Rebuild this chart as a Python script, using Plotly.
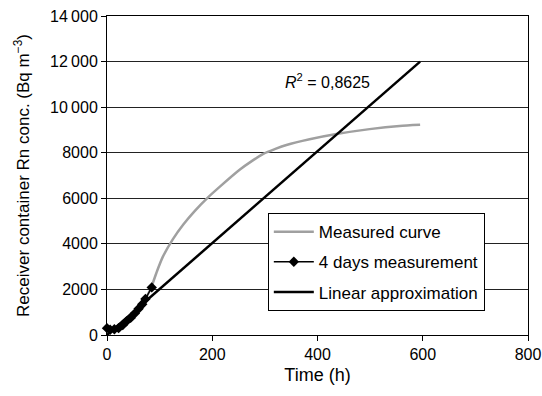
import plotly.graph_objects as go

# ---- data ----
measured_t = [0, 6, 14, 22, 30, 37, 45, 53, 60, 67, 73, 84, 95, 106, 125, 145, 167, 192, 214, 252, 275, 297, 320, 341, 385, 436, 499, 556, 595]
measured_y = [300, 230, 250, 300, 440, 600, 750, 950, 1150, 1350, 1580, 2090, 2800, 3430, 4200, 4850, 5450, 6040, 6500, 7250, 7630, 7950, 8170, 8340, 8590, 8820, 9035, 9175, 9225]

four_days_t = [0, 6, 14, 22, 30, 37, 45, 53, 60, 67, 73, 85]
four_days_y = [300, 230, 250, 300, 440, 600, 750, 950, 1150, 1350, 1580, 2090]

linear_t = [0, 595]
linear_y = [0, 12000]

y_ticks = [0, 2000, 4000, 6000, 8000, 10000, 12000, 14000]
y_tick_text = ["0", "2000", "4000", "6000", "8000", "10\u2009000", "12\u2009000", "14\u2009000"]
x_ticks = [0, 200, 400, 600, 800]

FONT = "Arial, Liberation Sans, sans-serif"

fig = go.Figure()
fig.add_trace(go.Scatter(
    x=measured_t, y=measured_y, name="Measured curve", mode="lines",
    line=dict(color="#a0a0a0", width=2.5, shape="spline", smoothing=0.6),
    legendgroup="a", cliponaxis=False))
fig.add_trace(go.Scatter(
    x=four_days_t, y=four_days_y, name="4 days measurement", mode="lines+markers",
    line=dict(color="black", width=1.5),
    marker=dict(symbol="diamond", size=8, color="black"),
    legendgroup="b", cliponaxis=False))
fig.add_trace(go.Scatter(
    x=linear_t, y=linear_y, name="Linear approximation", mode="lines",
    line=dict(color="black", width=2.5), legendgroup="c", cliponaxis=False))

fig.add_annotation(
    x=334, y=11150, xref="x", yref="y", xanchor="left", yanchor="middle",
    text="<i>R</i><sup>2</sup> = 0,8625", showarrow=False,
    font=dict(family=FONT, size=16, color="black"))

fig.update_layout(
    width=542, height=396,
    margin=dict(l=107, r=13.5, t=16, b=61, autoexpand=False),
    paper_bgcolor="white", plot_bgcolor="white",
    font=dict(family=FONT, size=16, color="black"),
    showlegend=True,
    legend=dict(
        x=0.382, y=0.382, xanchor="left", yanchor="top",
        bgcolor="white", bordercolor="black", borderwidth=1,
        font=dict(family=FONT, size=17, color="black"),
        tracegroupgap=5, itemwidth=40,
    ),
    xaxis=dict(
        range=[0, 800], tickvals=x_ticks, ticks="outside", ticklen=5,
        tickcolor="black", showline=True, linecolor="black", linewidth=1,
        mirror=True, showgrid=False, zeroline=False, automargin=False,
        ticklabeloverflow="allow",
        title=dict(text="Time (h)", font=dict(family=FONT, size=18), standoff=6),
        tickfont=dict(family=FONT, size=16),
    ),
    yaxis=dict(
        range=[0, 14000], tickvals=y_ticks, ticktext=y_tick_text,
        ticks="outside", ticklen=5, tickcolor="black",
        showline=True, linecolor="black", linewidth=1, mirror=True,
        showgrid=True, gridcolor="#222", gridwidth=1, zeroline=False,
        automargin=False, ticklabeloverflow="allow",
        title=dict(text="Receiver container Rn conc. (Bq m<sup>\u22123</sup>)",
                   font=dict(family=FONT, size=17), standoff=16),
        tickfont=dict(family=FONT, size=16),
    ),
)

# remove the default page margin so the 542x396 figure fills the window exactly
fig.write_html(
    "out.html",
    config={"displayModeBar": False},
    post_script="document.body.style.margin='0px';"
                "document.documentElement.style.overflow='hidden';"
                "document.body.style.overflow='hidden';",
)
